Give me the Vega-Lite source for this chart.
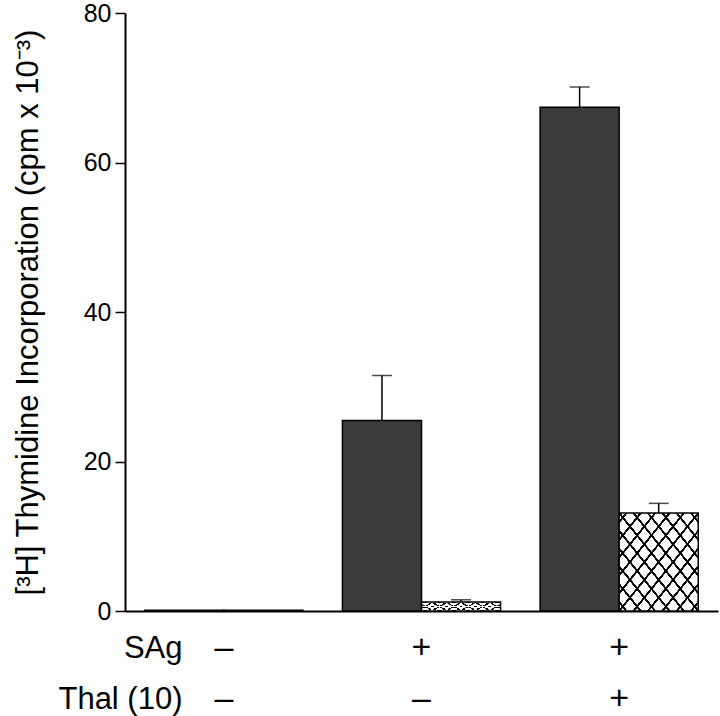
{
  "$schema": "https://vega.github.io/schema/vega-lite/v6.json",
  "width": 593,
  "height": 598,
  "autosize": "none",
  "padding": {"left": 125, "top": 13, "right": 2, "bottom": 105},
  "background": "white",
  "config": {
    "view": {"stroke": null},
    "font": "Liberation Sans",
    "axis": {"labelColor": "black", "titleColor": "black", "domainColor": "black", "tickColor": "black", "grid": false}
  },
  "data": {
    "values": [
      {"group": "–|–", "series": "dark", "value": 0.1},
      {"group": "–|–", "series": "hatched", "value": 0.1},
      {"group": "+|–", "series": "dark", "value": 25.5, "upper": 31.5},
      {"group": "+|–", "series": "hatched", "value": 1.2, "upper": 1.5},
      {"group": "+|+", "series": "dark", "value": 67.4, "upper": 70.1},
      {"group": "+|+", "series": "hatched", "value": 13.1, "upper": 14.4}
    ]
  },
  "encoding": {
    "x": {
      "field": "group", "type": "nominal", "sort": null,
      "scale": {"paddingInner": 0.2, "paddingOuter": 0.1},
      "axis": {
        "labelExpr": "split(datum.value, '|')",
        "labelAngle": 0, "labelFontSize": 34, "labelLineHeight": 51,
        "labelBaseline": "alphabetic", "labelPadding": 46,
        "ticks": false, "tickSize": 0, "domainWidth": 2,
        "title": ["SAg", "Thal (10)"], "titleFontSize": 31, "titleFontWeight": "normal",
        "titleAlign": "right", "titleBaseline": "alphabetic", "titleX": 57, "titleY": 46,
        "titleLineHeight": 51
      }
    },
    "xOffset": {"field": "series", "type": "nominal", "scale": {"domain": ["dark", "hatched"], "paddingInner": 0}},
    "y": {
      "field": "value", "type": "quantitative",
      "scale": {"domain": [0, 80], "nice": false},
      "axis": {
        "values": [0, 20, 40, 60, 80], "labelFontSize": 25, "labelPadding": 4,
        "tickSize": 10, "tickWidth": 1.5, "domainWidth": 2,
        "title": "[³H] Thymidine Incorporation (cpm x 10⁻³)", "titleFontSize": 31, "titleFontWeight": "normal",
        "titleAngle": -90, "titleAlign": "center", "titleBaseline": "alphabetic", "titleX": -88, "titleY": 299
      }
    }
  },
  "layer": [
    {
      "transform": [{"filter": "datum.series == 'dark'"}],
      "mark": {"type": "bar", "fill": "#3b3b3b", "stroke": "black", "strokeWidth": 1.5}
    },
    {
      "transform": [{"filter": "datum.series == 'hatched'"}],
      "mark": {"type": "bar", "fill": "white", "stroke": "black", "strokeWidth": 1.5}
    },
    {
      "transform": [{"filter": "datum.series == 'hatched' && datum.value > 1"}],
      "mark": {"type": "bar", "strokeWidth": 0, "fill": {
        "gradient": "linear", "x1": 0, "y1": 0, "x2": 1, "y2": 1,
        "stops": [
          {"offset": 0.03645, "color": "rgba(0,0,0,0)"}, {"offset": 0.03845, "color": "#000"}, {"offset": 0.05245, "color": "#000"}, {"offset": 0.05445, "color": "rgba(0,0,0,0)"},
          {"offset": 0.12736, "color": "rgba(0,0,0,0)"}, {"offset": 0.12936, "color": "#000"}, {"offset": 0.14336, "color": "#000"}, {"offset": 0.14536, "color": "rgba(0,0,0,0)"},
          {"offset": 0.21827, "color": "rgba(0,0,0,0)"}, {"offset": 0.22027, "color": "#000"}, {"offset": 0.23427, "color": "#000"}, {"offset": 0.23627, "color": "rgba(0,0,0,0)"},
          {"offset": 0.30918, "color": "rgba(0,0,0,0)"}, {"offset": 0.31118, "color": "#000"}, {"offset": 0.32518, "color": "#000"}, {"offset": 0.32718, "color": "rgba(0,0,0,0)"},
          {"offset": 0.40009, "color": "rgba(0,0,0,0)"}, {"offset": 0.40209, "color": "#000"}, {"offset": 0.41609, "color": "#000"}, {"offset": 0.41809, "color": "rgba(0,0,0,0)"},
          {"offset": 0.491, "color": "rgba(0,0,0,0)"}, {"offset": 0.493, "color": "#000"}, {"offset": 0.507, "color": "#000"}, {"offset": 0.509, "color": "rgba(0,0,0,0)"},
          {"offset": 0.58191, "color": "rgba(0,0,0,0)"}, {"offset": 0.58391, "color": "#000"}, {"offset": 0.59791, "color": "#000"}, {"offset": 0.59991, "color": "rgba(0,0,0,0)"},
          {"offset": 0.67282, "color": "rgba(0,0,0,0)"}, {"offset": 0.67482, "color": "#000"}, {"offset": 0.68882, "color": "#000"}, {"offset": 0.69082, "color": "rgba(0,0,0,0)"},
          {"offset": 0.76373, "color": "rgba(0,0,0,0)"}, {"offset": 0.76573, "color": "#000"}, {"offset": 0.77973, "color": "#000"}, {"offset": 0.78173, "color": "rgba(0,0,0,0)"},
          {"offset": 0.85464, "color": "rgba(0,0,0,0)"}, {"offset": 0.85664, "color": "#000"}, {"offset": 0.87064, "color": "#000"}, {"offset": 0.87264, "color": "rgba(0,0,0,0)"},
          {"offset": 0.94555, "color": "rgba(0,0,0,0)"}, {"offset": 0.94755, "color": "#000"}, {"offset": 0.96155, "color": "#000"}, {"offset": 0.96355, "color": "rgba(0,0,0,0)"}
        ]
      }}
    },
    {
      "transform": [{"filter": "datum.series == 'hatched' && datum.value > 1"}],
      "mark": {"type": "bar", "strokeWidth": 0, "fill": {
        "gradient": "linear", "x1": 1, "y1": 0, "x2": 0, "y2": 1,
        "stops": [
          {"offset": 0.03645, "color": "rgba(0,0,0,0)"}, {"offset": 0.03845, "color": "#000"}, {"offset": 0.05245, "color": "#000"}, {"offset": 0.05445, "color": "rgba(0,0,0,0)"},
          {"offset": 0.12736, "color": "rgba(0,0,0,0)"}, {"offset": 0.12936, "color": "#000"}, {"offset": 0.14336, "color": "#000"}, {"offset": 0.14536, "color": "rgba(0,0,0,0)"},
          {"offset": 0.21827, "color": "rgba(0,0,0,0)"}, {"offset": 0.22027, "color": "#000"}, {"offset": 0.23427, "color": "#000"}, {"offset": 0.23627, "color": "rgba(0,0,0,0)"},
          {"offset": 0.30918, "color": "rgba(0,0,0,0)"}, {"offset": 0.31118, "color": "#000"}, {"offset": 0.32518, "color": "#000"}, {"offset": 0.32718, "color": "rgba(0,0,0,0)"},
          {"offset": 0.40009, "color": "rgba(0,0,0,0)"}, {"offset": 0.40209, "color": "#000"}, {"offset": 0.41609, "color": "#000"}, {"offset": 0.41809, "color": "rgba(0,0,0,0)"},
          {"offset": 0.491, "color": "rgba(0,0,0,0)"}, {"offset": 0.493, "color": "#000"}, {"offset": 0.507, "color": "#000"}, {"offset": 0.509, "color": "rgba(0,0,0,0)"},
          {"offset": 0.58191, "color": "rgba(0,0,0,0)"}, {"offset": 0.58391, "color": "#000"}, {"offset": 0.59791, "color": "#000"}, {"offset": 0.59991, "color": "rgba(0,0,0,0)"},
          {"offset": 0.67282, "color": "rgba(0,0,0,0)"}, {"offset": 0.67482, "color": "#000"}, {"offset": 0.68882, "color": "#000"}, {"offset": 0.69082, "color": "rgba(0,0,0,0)"},
          {"offset": 0.76373, "color": "rgba(0,0,0,0)"}, {"offset": 0.76573, "color": "#000"}, {"offset": 0.77973, "color": "#000"}, {"offset": 0.78173, "color": "rgba(0,0,0,0)"},
          {"offset": 0.85464, "color": "rgba(0,0,0,0)"}, {"offset": 0.85664, "color": "#000"}, {"offset": 0.87064, "color": "#000"}, {"offset": 0.87264, "color": "rgba(0,0,0,0)"},
          {"offset": 0.94555, "color": "rgba(0,0,0,0)"}, {"offset": 0.94755, "color": "#000"}, {"offset": 0.96155, "color": "#000"}, {"offset": 0.96355, "color": "rgba(0,0,0,0)"}
        ]
      }}
    },
    {
      "transform": [{"filter": "isValid(datum.upper)"}],
      "mark": {"type": "rule", "color": "black", "strokeWidth": 1.5},
      "encoding": {"y2": {"field": "upper"}}
    },
    {
      "transform": [{"filter": "isValid(datum.upper)"}],
      "mark": {"type": "tick", "color": "black", "orient": "horizontal", "size": 20, "thickness": 1.5},
      "encoding": {"y": {"field": "upper", "type": "quantitative"}}
    }
  ]
}
